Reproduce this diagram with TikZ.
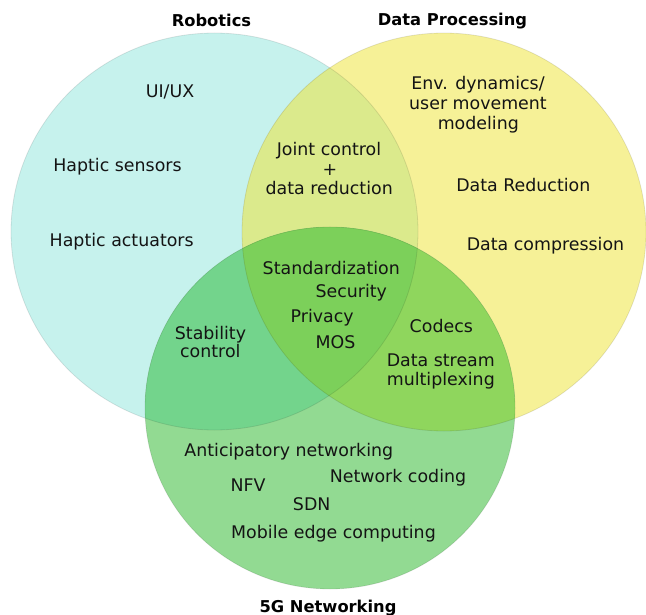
\documentclass[tikz,border=0pt]{standalone}
\usepackage{fontspec}
\setmainfont{DejaVu Sans}
\definecolor{cyanR}{RGB}{198,242,237}
\definecolor{yellowD}{RGB}{246,241,151}
\definecolor{greenF}{RGB}{146,218,146}
\definecolor{rdC}{RGB}{219,234,140}
\definecolor{rfC}{RGB}{115,212,140}
\definecolor{dfC}{RGB}{143,214,93}
\definecolor{allC}{RGB}{124,208,90}
\begin{document}
\begin{tikzpicture}[x=1pt,y=-1pt,
  lbl/.style={anchor=base,inner sep=0pt,font=\fontsize{17.4}{20}\selectfont,text=black!92},
  ttl/.style={anchor=base,inner sep=0pt,font=\fontsize{16.3}{19}\selectfont\bfseries,text=black},
  rim/.style={draw=black,draw opacity=0.1,line width=0.8pt}]
\useasboundingbox (0,0) rectangle (646,615);
\def\RobE{(214.5,231.5) ellipse [x radius=203.5pt, y radius=198.5pt]}
\def\DatE{(444,232) ellipse [x radius=202pt, y radius=199pt]}
\def\NetE{(330,408) ellipse [x radius=185pt, y radius=181pt]}
% base fills
\fill[cyanR] \RobE;
\fill[yellowD] \DatE;
\fill[greenF] \NetE;
% pairwise overlaps
\begin{scope}\clip \RobE; \fill[rdC] \DatE; \end{scope}
\begin{scope}\clip \RobE; \fill[rfC] \NetE; \end{scope}
\begin{scope}\clip \DatE; \fill[dfC] \NetE; \end{scope}
\begin{scope}\clip \RobE; \clip \DatE; \fill[allC] \NetE; \end{scope}
% outlines
\draw[rim] \RobE;
\draw[rim] \DatE;
\draw[rim] \NetE;
% titles
\node[ttl] (tR) at (211.5,26.6) {Robotics};
\node[ttl] (tD) at (452.5,26) {Data Processing};
\node[ttl] (tN) at (328,612.6) {5G Networking};
% robotics only
\node[lbl] (uiux) at (170,98) {UI/UX};
\node[lbl] (hsens) at (117.5,172) {Haptic sensors};
\node[lbl] (hact) at (121.7,247) {Haptic actuators};
% robotics + data
\node[lbl] (jc1) at (329,156) {Joint control};
\node[lbl] (jc2) at (330,176) {+};
\node[lbl] (jc3) at (329.2,195) {data reduction};
% data only
\node[lbl] (env1) at (478,90) {Env. dynamics/};
\node[lbl] (env2) at (478,109.5) {user movement};
\node[lbl] (env3) at (478.3,129.5) {modeling};
\node[lbl] (dred) at (523.3,192) {Data Reduction};
\node[lbl] (dcomp) at (545.5,251) {Data compression};
% all three
\node[lbl] (std) at (331.3,275) {Standardization};
\node[lbl] (sec) at (351.3,297.7) {Security};
\node[lbl] (priv) at (322.2,322.7) {Privacy};
\node[lbl] (mos) at (335.5,348) {MOS};
% data + 5G
\node[lbl] (codecs) at (441.3,332.7) {Codecs};
\node[lbl] (ds1) at (440.8,366.7) {Data stream};
\node[lbl] (ds2) at (440.8,385.5) {multiplexing};
% robotics + 5G
\node[lbl] (st1) at (210.5,339.3) {Stability};
\node[lbl] (st2) at (210.3,357.5) {control};
% 5G only
\node[lbl] (antic) at (288.8,456.7) {Anticipatory networking};
\node[lbl] (ncod) at (398,482.7) {Network coding};
\node[lbl] (nfv) at (248,491.3) {NFV};
\node[lbl] (sdn) at (311.7,510.3) {SDN};
\node[lbl] (mec) at (333.5,538.7) {Mobile edge computing};
\end{tikzpicture}
\end{document}
